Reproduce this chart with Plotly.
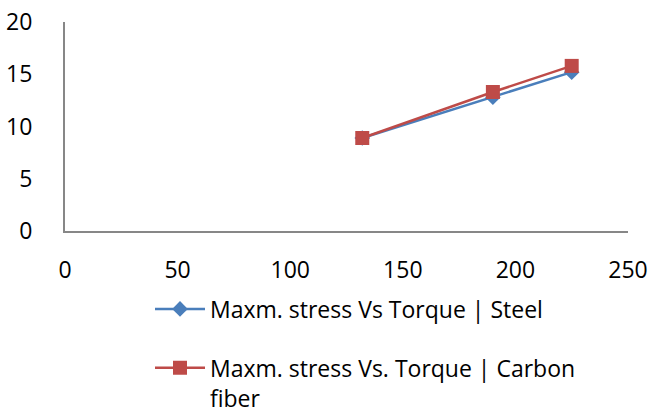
import plotly.graph_objects as go

# Torque values (x) and maximum stress (y) for each shaft material
torque = [132, 190, 225]
stress_steel = [8.9, 12.8, 15.2]
stress_carbon = [8.9, 13.3, 15.8]

name_steel = "Maxm. stress Vs Torque | Steel"
name_carbon = "Maxm. stress Vs. Torque | Carbon<br>fiber"

x_ticks = [0, 50, 100, 150, 200, 250]
y_ticks = [0, 5, 10, 15, 20]

BLUE = "#4A7EBB"
RED = "#BE4B48"
AXIS = "#878787"
FONT = "Open Sans"
SIZE = 23

fig = go.Figure()
fig.add_trace(go.Scatter(
    x=torque, y=stress_steel, name=name_steel, mode="lines+markers",
    line=dict(color=BLUE, width=2.5),
    marker=dict(symbol="diamond", size=12, color=BLUE),
    legendgroup="steel",
))
fig.add_trace(go.Scatter(
    x=torque, y=stress_carbon, name=name_carbon, mode="lines+markers",
    line=dict(color=RED, width=2.5),
    marker=dict(symbol="square", size=14, color=RED),
    legendgroup="carbon",
))

fig.update_layout(
    width=657, height=414,
    margin=dict(l=65, r=29, t=22, b=183, autoexpand=False),
    paper_bgcolor="white", plot_bgcolor="white",
    font=dict(family=FONT, size=SIZE, color="#000000"),
    showlegend=True,
    legend=dict(
        x=(150 - 65) / (657 - 65 - 29), y=-0.27, xanchor="left", yanchor="top",
        orientation="v", traceorder="grouped", tracegroupgap=26,
        valign="top", itemwidth=50, font=dict(family=FONT, size=SIZE),
        bgcolor="rgba(0,0,0,0)",
    ),
)
fig.update_xaxes(
    range=[0, 250], tickvals=x_ticks, ticktext=[str(v) for v in x_ticks],
    showline=True, linecolor=AXIS, linewidth=2, showgrid=False, zeroline=False,
    ticks="", ticklabelstandoff=17, automargin=False,
)
fig.update_yaxes(
    range=[0, 20], tickvals=y_ticks, ticktext=[str(v) for v in y_ticks],
    showline=True, linecolor=AXIS, linewidth=2, showgrid=False, zeroline=False,
    ticks="", ticklabelstandoff=26, automargin=False,
)

fig.write_html("out.html")
